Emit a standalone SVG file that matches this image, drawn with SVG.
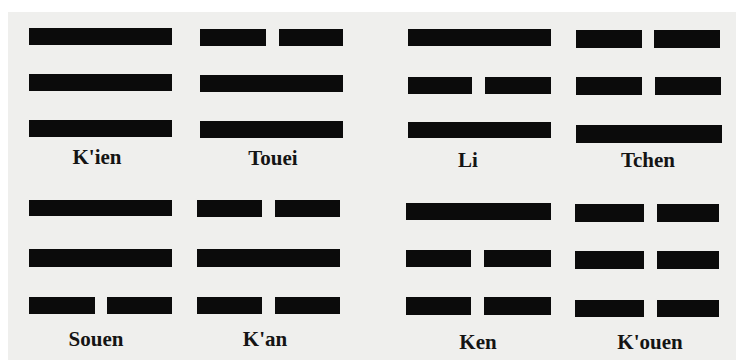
<svg xmlns="http://www.w3.org/2000/svg" width="736" height="360" viewBox="0 0 736 360">
<style>
.bar{fill:#0b0b0b}
.lbl{font-family:"Liberation Serif","DejaVu Serif",serif;font-size:21px;font-weight:bold;fill:#141414;text-anchor:middle}
</style>
<rect width="736" height="360" fill="#ffffff"/>
<rect x="8" y="12" width="728" height="348" fill="#efefed"/>
<g id="kien">
<rect class="bar" x="29" y="28" width="143" height="17"/>
<rect class="bar" x="29" y="74" width="143" height="17"/>
<rect class="bar" x="29" y="120" width="143" height="17"/>
<text class="lbl" x="97" y="164">K'ien</text>
</g>
<g id="touei">
<rect class="bar" x="200" y="29" width="66" height="17"/>
<rect class="bar" x="279" y="29" width="64" height="17"/>
<rect class="bar" x="200" y="75" width="143" height="17"/>
<rect class="bar" x="200" y="121" width="143" height="17"/>
<text class="lbl" x="273" y="165">Touei</text>
</g>
<g id="li">
<rect class="bar" x="408" y="29" width="143" height="17"/>
<rect class="bar" x="408" y="77" width="64" height="17"/>
<rect class="bar" x="485" y="77" width="66" height="17"/>
<rect class="bar" x="408" y="122" width="143" height="16"/>
<text class="lbl" x="468" y="167">Li</text>
</g>
<g id="tchen">
<rect class="bar" x="576" y="30" width="66" height="18"/>
<rect class="bar" x="654" y="30" width="66" height="18"/>
<rect class="bar" x="576" y="77" width="66" height="18"/>
<rect class="bar" x="655" y="77" width="66" height="18"/>
<rect class="bar" x="576" y="125" width="146" height="18"/>
<text class="lbl" x="648" y="167">Tchen</text>
</g>
<g id="souen">
<rect class="bar" x="29" y="200" width="143" height="16"/>
<rect class="bar" x="29" y="249" width="143" height="18"/>
<rect class="bar" x="29" y="297" width="66" height="17"/>
<rect class="bar" x="107" y="297" width="65" height="17"/>
<text class="lbl" x="96" y="346">Souen</text>
</g>
<g id="kan">
<rect class="bar" x="197" y="200" width="65" height="17"/>
<rect class="bar" x="275" y="200" width="65" height="17"/>
<rect class="bar" x="197" y="249" width="143" height="18"/>
<rect class="bar" x="197" y="297" width="65" height="17"/>
<rect class="bar" x="275" y="297" width="65" height="17"/>
<text class="lbl" x="265" y="346">K'an</text>
</g>
<g id="ken">
<rect class="bar" x="406" y="203" width="145" height="17"/>
<rect class="bar" x="406" y="250" width="65" height="17"/>
<rect class="bar" x="484" y="250" width="67" height="17"/>
<rect class="bar" x="406" y="297" width="65" height="18"/>
<rect class="bar" x="484" y="297" width="67" height="18"/>
<text class="lbl" x="478" y="349">Ken</text>
</g>
<g id="kouen">
<rect class="bar" x="575" y="204" width="69" height="18"/>
<rect class="bar" x="657" y="204" width="62" height="18"/>
<rect class="bar" x="575" y="251" width="69" height="18"/>
<rect class="bar" x="657" y="251" width="62" height="18"/>
<rect class="bar" x="575" y="300" width="69" height="17"/>
<rect class="bar" x="657" y="300" width="62" height="17"/>
<text class="lbl" x="650" y="349">K'ouen</text>
</g>
<g id="connectors"/>
</svg>
